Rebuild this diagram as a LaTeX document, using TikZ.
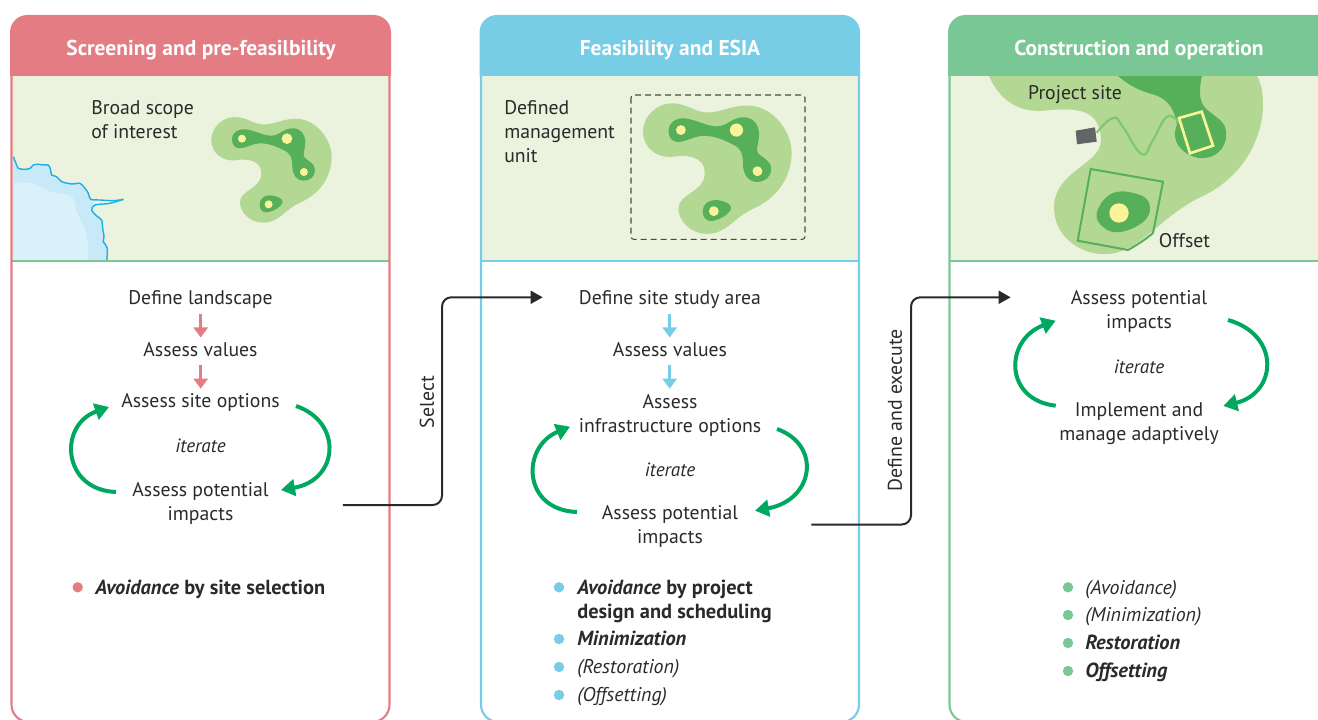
\documentclass[tikz,border=0pt]{standalone}
\usepackage{fontspec}
\setmainfont{PT Sans}
\usetikzlibrary{arrows.meta,calc}
\definecolor{cpink}{HTML}{E47C84}
\definecolor{cblue}{HTML}{77CDE6}
\definecolor{cgreen}{HTML}{79C795}
\definecolor{cmap}{HTML}{EBF2DE}
\definecolor{clight}{HTML}{B2D894}
\definecolor{cdark}{HTML}{56AF59}
\definecolor{cyel}{HTML}{FBF39A}
\definecolor{citer}{HTML}{00A85F}
\definecolor{ctxt}{HTML}{2B2A29}
\definecolor{cwire}{HTML}{80C86F}
\definecolor{cgrey}{HTML}{636466}
\definecolor{csea}{HTML}{C7E9F8}
\definecolor{cseal}{HTML}{DAF0FA}
\definecolor{ccoast}{HTML}{1CB0E8}
\tikzset{
 x=0.75pt,y=-0.75pt,
 lbl/.style={font=\fontsize{14.8}{18}\selectfont,text=ctxt,align=center,inner sep=0pt},
 txt/.style={lbl,yshift=-1.2pt},
 lleft/.style={txt,align=left,anchor=west},
 iter/.style={lbl,font=\fontsize{14.4}{18}\selectfont\itshape},
 hdr/.style={font=\fontsize{16.1}{18}\selectfont\bfseries,text=white,inner sep=0pt,yshift=-1.2pt},
 bulb/.style={txt,align=left,anchor=west,font=\fontsize{15.3}{18}\selectfont},
 buli/.style={txt,align=left,anchor=west,font=\fontsize{14.9}{18}\selectfont},
 side/.style={lbl,rotate=90,font=\fontsize{14.9}{18}\selectfont},
 flowpink/.style={draw=cpink,line width=2pt,-{Triangle[length=7.5pt,width=10.5pt]}},
 flowblue/.style={draw=cblue,line width=2pt,-{Triangle[length=7.5pt,width=10.5pt]}},
 loopgreen/.style={draw=citer,line width=3pt,-{Triangle[length=10.5pt,width=12.5pt]}},
 conn/.style={draw=ctxt,line width=1.5pt,rounded corners=7pt,-{Triangle[length=9pt,width=9.7pt]}},
}
\newcommand{\blobouter}{(0,69) .. controls (0,30) and (35,0) .. (70,0) .. controls (110,0) and (125,25) .. (165,22) .. controls (200,18) and (225,2) .. (265,6) .. controls (325,15) and (361,75) .. (361,120) .. controls (361,180) and (325,230) .. (270,255) .. controls (215,280) and (205,317) .. (155,317) .. controls (115,317) and (86,285) .. (86,255) .. controls (86,220) and (150,215) .. (150,170) .. controls (150,125) and (100,125) .. (70,130) .. controls (30,133) and (0,105) .. (0,69) -- cycle}
\newcommand{\blobdark}{(62,67) .. controls (62,45) and (85,33) .. (105,37) .. controls (135,42) and (155,56) .. (180,56) .. controls (205,56) and (215,34) .. (245,34) .. controls (270,34) and (282,55) .. (282,75) .. controls (282,100) and (272,110) .. (280,122) .. controls (295,135) and (311,140) .. (311,160) .. controls (311,180) and (295,191) .. (276,191) .. controls (255,191) and (243,170) .. (243,150) .. controls (243,125) and (240,110) .. (218,100) .. controls (195,88) and (175,80) .. (150,79) .. controls (125,78) and (105,94) .. (85,94) .. controls (70,94) and (62,82) .. (62,67) -- cycle
 (145,262) .. controls (145,245) and (160,235) .. (175,235) .. controls (195,235) and (215,245) .. (214,255) .. controls (212,268) and (185,285) .. (165,286) .. controls (152,286) and (145,275) .. (145,262) -- cycle}
\newcommand{\blobdots}{\fill[cyel] (92,65) circle (12) (227,65) circle (16) (278,165) circle (12) (172,262) circle (12);}
\newcommand{\dotb}[2]{\fill[#1] #2 circle (5.2);}
\begin{document}
\begin{tikzpicture}
\useasboundingbox (0,0) rectangle (1318,720);
% map panels
\fill[cmap] (11.5,76) rectangle (389,261);
\fill[cmap] (481,76) rectangle (858,261);
\fill[cmap] (950,76) rectangle (1318,261);
% sea
\begin{scope}
\clip (13,76) rectangle (389,260);
\begin{scope}[scale=1/3]
\fill[csea] (40,470) -- plot[smooth,tension=.5] coordinates {(40,470) (55,505) (90,505) (115,493) (145,495) (155,525) (185,545) (240,550) (265,580) (275,602) (285,615) (275,630) (305,660) (310,710) (322,745) (320,785)} -- (40,785) -- cycle;
\fill[cseal] plot[smooth,tension=.5] coordinates {(40,548) (100,550) (150,575) (215,590) (232,640) (260,700) (265,785)} -- (40,785) -- cycle;
\draw[ccoast,line width=1.05pt] plot[smooth,tension=.5] coordinates {(40,470) (48,490) (55,505) (75,508) (90,505) (100,495) (115,493) (130,495) (145,495) (152,510) (155,525) (170,530) (185,545) (215,552) (240,550) (255,565) (265,580) (272,598) (300,600) (340,602) (370,598)};
\draw[ccoast,line width=1.05pt] plot[smooth,tension=.5] coordinates {(370,598) (330,610) (285,615) (275,630) (290,648) (305,660) (308,685) (312,710) (310,725) (322,745) (320,785)};
\end{scope}
\end{scope}
% panel 1 blob
\begin{scope}[shift={(211.3,117)},scale=1/3]
\fill[clight] \blobouter;
\fill[cdark] \blobdark;
\blobdots
\end{scope}
% panel 2 blob
\begin{scope}[shift={(643,103.3)},scale=0.4117]
\fill[clight] \blobouter;
\fill[cdark] \blobdark;
\blobdots
\end{scope}
\draw[ctxt!85,line width=.8pt,dash pattern=on 4.5pt off 3pt,rounded corners=2pt] (631,95) rectangle (805,239.3);
% panel 3 map
\begin{scope}
\clip (950,76) rectangle (1318,261);
\fill[clight] (989,76) .. controls (996,92) and (1010,111) .. (1040,111) .. controls (1070,108) and (1100,105) .. (1101,140) .. controls (1101,165) and (1055,170) .. (1054,207) .. controls (1054,240) and (1085,255) .. (1105,254) .. controls (1140,254) and (1160,215) .. (1205,195) .. controls (1250,172) and (1263,130) .. (1263,105) .. controls (1263,95) and (1262,85) .. (1257,76) -- cycle;
\fill[cdark] (1118,76) .. controls (1135,90) and (1145,92) .. (1155,95) .. controls (1170,100) and (1175,112) .. (1177,125) .. controls (1168,145) and (1190,160) .. (1205,158) .. controls (1228,155) and (1230,130) .. (1222,122) .. controls (1210,110) and (1200,110) .. (1200,92) .. controls (1200,85) and (1201,80) .. (1202,76) -- cycle;
\fill[cdark] plot[smooth cycle,tension=.7] coordinates {(1097,212) (1113,193) (1140,195) (1150,207) (1143,222) (1120,232) (1103,227)};
\fill[cyel] (1119,213) circle (9.7);
\draw[cdark,line width=1.5pt] (1090.7,169) -- (1163,181.7) -- (1153,233) .. controls (1145,240) and (1135,246) .. (1128,250) -- (1077.7,240.7) -- cycle;
\draw[cwire,line width=1.7pt] plot[smooth,tension=.8] coordinates {(1096.7,132.7) (1113,118) (1123,127) (1141.7,154) (1153,140) (1167,116.7) (1179,123)};
\draw[cyel,line width=2pt] (1179,118) -- (1201.7,111.7) -- (1213,145.7) -- (1190,153.3) -- cycle;
\fill[cgrey] (1075.7,130.7) -- (1095,127.3) -- (1096.7,141.7) -- (1077,144.3) -- cycle;
\end{scope}
% panel frames
\begin{scope}
\clip (0,0) rectangle (1318,76);
\fill[cpink,rounded corners=13pt] (10,100) -- (10,15) -- (391,15) -- (391,100) -- cycle;
\fill[cblue,rounded corners=13pt] (479.5,100) -- (479.5,15) -- (860,15) -- (860,100) -- cycle;
\fill[cgreen,rounded corners=13pt] (948,100) -- (948,15) -- (1340,15) -- (1340,100) -- cycle;
\end{scope}
\draw[cgreen,line width=1.1pt] (12,261) -- (389.5,261);
\draw[cblue,line width=1.5pt] (481,261) -- (859,261);
\draw[cgreen,line width=1.5pt] (950,261) -- (1318,261);
\draw[cpink,line width=1.6pt,rounded corners=13pt] (11.5,70) -- (11.5,722) -- (389.5,722) -- (389.5,70);
\draw[cblue,line width=1.6pt,rounded corners=13pt] (481,70) -- (481,722) -- (859,722) -- (859,70);
\draw[cgreen,line width=1.6pt,rounded corners=13pt] (949.5,70) -- (949.5,722) -- (1330,722);
% headers
\node[hdr] (h1) at (201,48.7) {Screening and pre-feasilbility};
\node[hdr] (h2) at (670,48) {Feasibility and ESIA};
\node[hdr] (h3) at (1139,48) {Construction and operation};
% map labels
\node[lleft] (m1) at (91,118) {Broad scope\\of interest};
\node[lleft] (m2) at (504,130.5) {Defined\\management\\unit};
\node[txt] (m3) at (1075,93) {Project site};
\node[txt] (m4) at (1184.5,239) {Offset};
% panel 1 flow
\node[txt] (a1) at (200.5,298) {Define landscape};
\node[txt] (a2) at (200.5,348) {Assess values};
\node[txt] (a3) at (200.5,401) {Assess site options};
\node[txt] (a4) at (200.5,502) {Assess potential\\impacts};
\node[iter] (a5) at (200.5,445.5) {iterate};
\draw[flowpink] (200.7,314) -- (200.7,337.5);
\draw[flowpink] (200.7,364.7) -- (200.7,388.7);
\draw[loopgreen] (296,406) .. controls (343,422) and (339,480) .. (281,490);
\draw[loopgreen] (116,492) .. controls (62,490) and (58,425) .. (109,407);
% panel 2 flow
\node[txt] (b1) at (670,298) {Define site study area};
\node[txt] (b2) at (670,348) {Assess values};
\node[txt] (b3) at (670,414) {Assess\\infrastructure options};
\node[txt] (b4) at (670,524.5) {Assess potential\\impacts};
\node[iter] (b5) at (670,469.5) {iterate};
\draw[flowblue] (669.7,314) -- (669.7,337.5);
\draw[flowblue] (669.7,364.7) -- (669.7,388.7);
\draw[loopgreen] (777,429) .. controls (822,445) and (814,500) .. (755,510.7);
\draw[loopgreen] (577,512) .. controls (522,510) and (521,447) .. (570,426.7);
% panel 3 flow
\node[txt] (c1) at (1139,309.5) {Assess potential\\impacts};
\node[txt] (c2) at (1139,422.5) {Implement and\\manage adaptively};
\node[iter] (c3) at (1139,366.5) {iterate};
\draw[loopgreen] (1228,320) .. controls (1281,335) and (1277,393) .. (1223.3,406);
\draw[loopgreen] (1055.7,405.7) .. controls (1004,400) and (1004,340) .. (1055.7,320.7);
% connectors
\coordinate (j1) at (442,505);
\coordinate (j2) at (911,524.5);
\coordinate (j3) at (442,297.3);
\coordinate (j4) at (911,297.3);
\draw[conn,shorten <=55.5pt,shorten >=27pt] (a4.east |- j1) -- (j1) -- (j3) -- (b1.west |- j3);
\draw[conn,shorten <=54.75pt,shorten >=45pt] (b4.east |- j2) -- (j2) -- (j4) -- (c1.west |- j4);
\node[side] (s1) at (427,402) {Select};
\node[side] (s2) at (895,410.5) {Define and execute};
% bullets
\dotb{cpink}{(77.7,587.3)}
\node[bulb] (d1) at (95,587.5) {\textbf{\textit{Avoidance} by site selection}};
\dotb{cblue}{(559,587.3)}\dotb{cblue}{(559,639)}\dotb{cblue}{(559,667)}\dotb{cblue}{(559,695)}
\node[bulb] (e1) at (577,599.5) {\textbf{\textit{Avoidance} by project}\\\textbf{design and scheduling}};
\node[bulb] (e2) at (577,636.5) {\textbf{\textit{Minimization}}};
\node[buli] (e3) at (577,667.5) {\textit{(Restoration)}};
\node[buli] (e4) at (577,695) {\textit{(Offsetting)}};
\dotb{cgreen}{(1068,587.3)}\dotb{cgreen}{(1068,615)}\dotb{cgreen}{(1068,643)}\dotb{cgreen}{(1068,671)}
\node[buli] (f1) at (1085,588.5) {\textit{(Avoidance)}};
\node[buli] (f2) at (1085,615.5) {\textit{(Minimization)}};
\node[bulb] (f3) at (1085,640.5) {\textbf{\textit{Restoration}}};
\node[bulb] (f4) at (1085,670.5) {\textbf{\textit{Offsetting}}};
\end{tikzpicture}
\end{document}
